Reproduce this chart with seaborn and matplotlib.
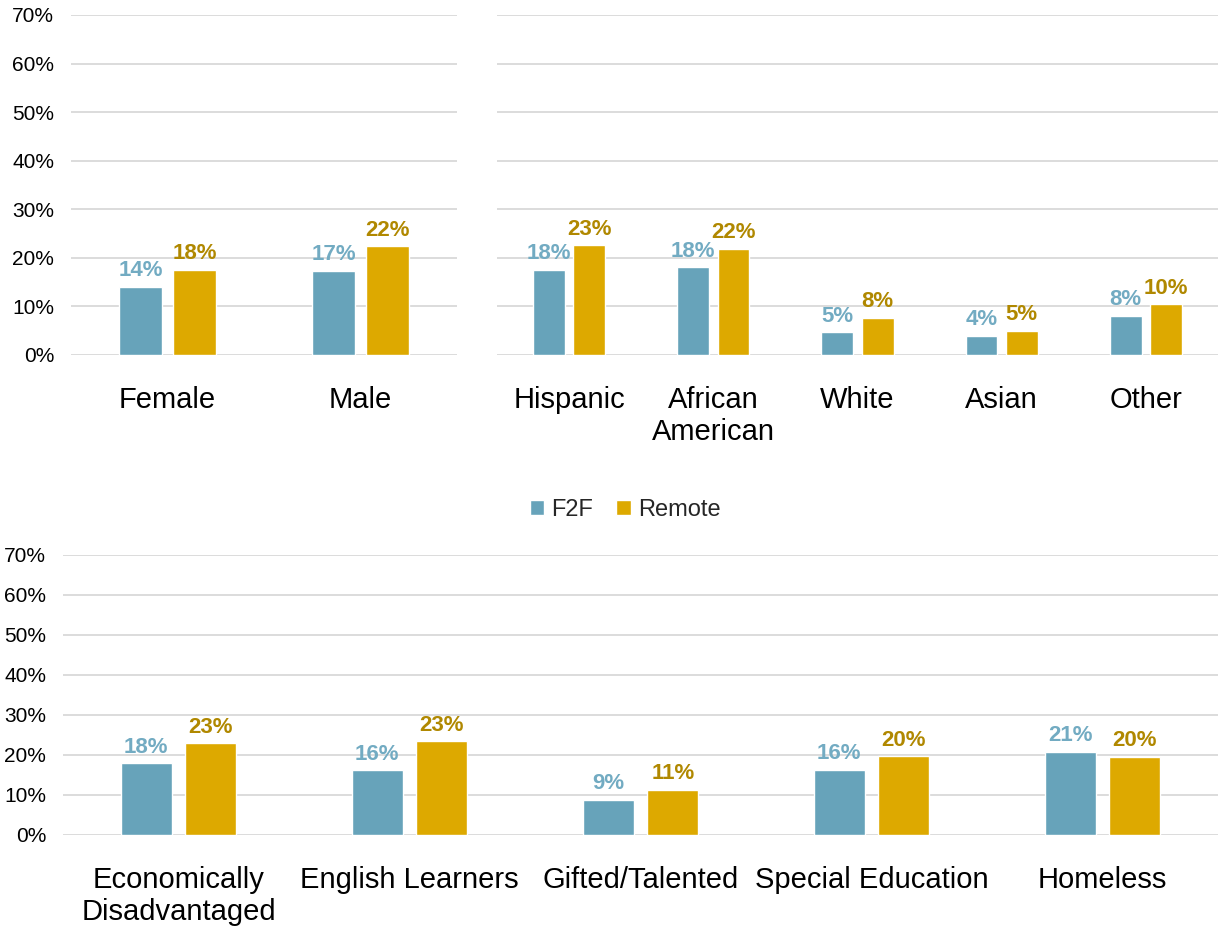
import matplotlib
matplotlib.use("Agg")
import matplotlib.pyplot as plt
import seaborn as sns
import pandas as pd
from matplotlib.patches import Patch

sns.set_theme(style="white")
plt.rcParams['font.family'] = ['Liberation Sans Narrow', 'Liberation Sans', 'DejaVu Sans']

series = ["F2F", "Remote"]

gender_cats = ["Female", "Male"]
gender_f2f = [14.0, 17.3]
gender_remote = [17.5, 22.4]

race_cats = ["Hispanic", "African\nAmerican", "White", "Asian", "Other"]
race_f2f = [17.6, 18.1, 4.7, 4.0, 8.1]
race_remote = [22.6, 21.9, 7.7, 5.0, 10.4]

group_cats = ["Economically\nDisadvantaged", "English Learners", "Gifted/Talented",
              "Special Education", "Homeless"]
group_f2f = [17.9, 16.2, 8.8, 16.3, 20.8]
group_remote = [22.9, 23.4, 11.3, 19.7, 19.6]

yticks = [0, 10, 20, 30, 40, 50, 60, 70]

bar_colors = {"F2F": "#67A3BA", "Remote": "#DDA900"}
label_colors = {"F2F": "#72ABC2", "Remote": "#B08800"}
grid_color = "#D9D9D9"

W, H = 1218, 936
fig = plt.figure(figsize=(W / 100, H / 100), dpi=100)


def make_df(cats, f2f, remote):
    rows = []
    for c, a, b in zip(cats, f2f, remote):
        rows.append({"cat": c, "series": "F2F", "val": a})
        rows.append({"cat": c, "series": "Remote", "val": b})
    return pd.DataFrame(rows)


def add_ax(x0, y0, x1, y1):
    return fig.add_axes([x0 / W, 1 - y1 / H, (x1 - x0) / W, (y1 - y0) / H])


def draw(ax, cats, f2f, remote, show_y, cat_fs):
    df = make_df(cats, f2f, remote)
    sns.barplot(data=df, x="cat", y="val", hue="series", order=cats,
                hue_order=series, palette=bar_colors, width=0.56, gap=0.21,
                ax=ax, legend=False, saturation=1, errorbar=None)
    for cont, s in zip(ax.containers, series):
        ax.bar_label(cont, labels=[f"{v:.0f}%" for v in cont.datavalues],
                     color=label_colors[s], fontsize=16, fontweight="bold", padding=4)
    ax.set_ylim(0, 70)
    ax.set_yticks(yticks)
    ax.yaxis.grid(True, color=grid_color, linewidth=1.3)
    ax.set_axisbelow(True)
    for sp in ax.spines.values():
        sp.set_visible(False)
    ax.set_xlabel("")
    ax.set_ylabel("")
    ax.tick_params(axis="x", length=0, labelsize=cat_fs, pad=22, labelcolor="#000000")
    ax.tick_params(axis="y", length=0, labelsize=15, pad=12, labelcolor="#000000")
    if show_y:
        ax.set_yticklabels([f"{t}%" for t in yticks])
    else:
        ax.set_yticklabels([])


ax1 = add_ax(71, 15, 457, 355)
draw(ax1, gender_cats, gender_f2f, gender_remote, True, 21)

ax2 = add_ax(497, 15, 1218, 355)
draw(ax2, race_cats, race_f2f, race_remote, False, 21)

ax3 = add_ax(63, 555, 1218, 835)
draw(ax3, group_cats, group_f2f, group_remote, True, 21)

handles = [Patch(facecolor=bar_colors[s], label=s) for s in series]
fig.legend(handles=handles, loc="center", bbox_to_anchor=(625 / W, 1 - 510 / H),
           ncol=2, frameon=False, fontsize=17, handlelength=0.6, handleheight=0.6,
           handletextpad=0.3, columnspacing=1.0)

fig.savefig("out.png", dpi=100)
